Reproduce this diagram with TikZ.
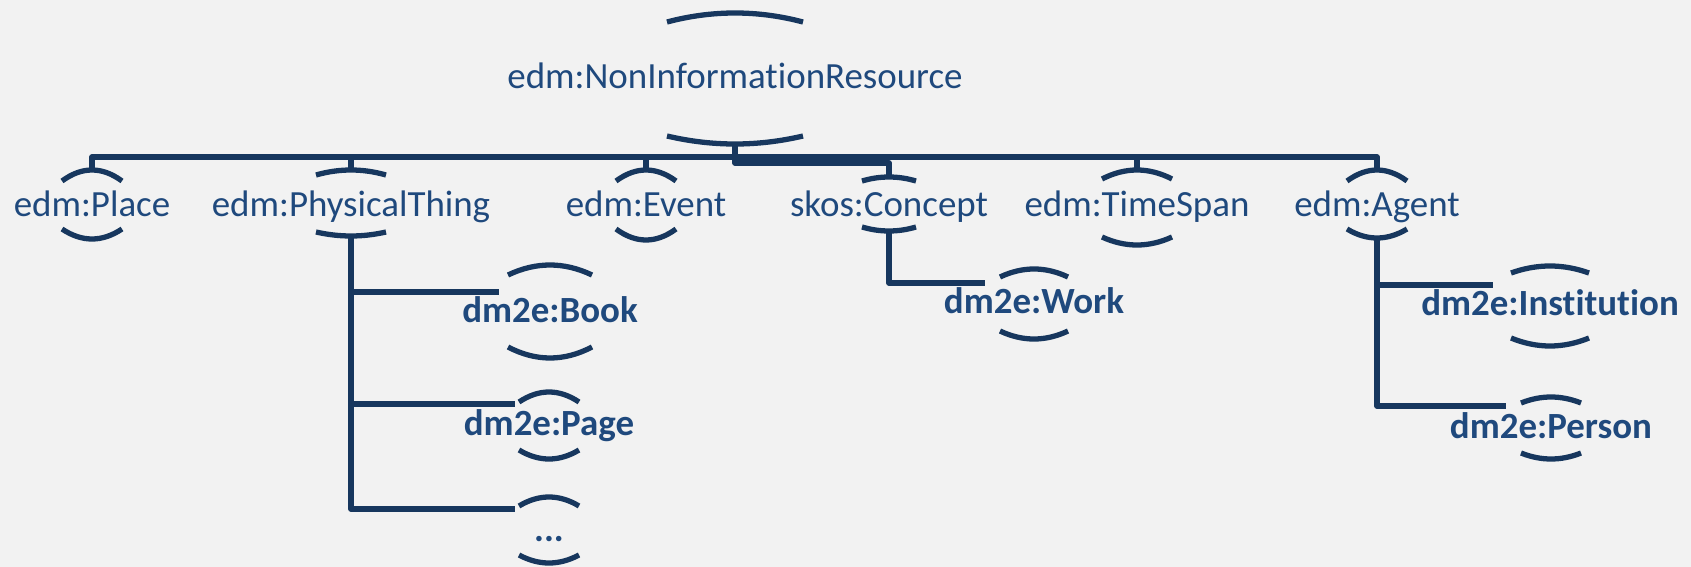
\documentclass[tikz,border=0pt]{standalone}
\usepackage{fontspec}
\setmainfont{Carlito}[Ligatures=NoCommon]
\usepackage{tikz}
\usetikzlibrary{calc}
\definecolor{bgc}{HTML}{F2F2F2}
\definecolor{txtc}{HTML}{1F497D}
\definecolor{linec}{HTML}{17375E}
\tikzset{
  cls/.style={anchor=base, inner sep=0pt, text=txtc, font=\fontsize{10.5}{12}\selectfont},
  sub/.style={cls, font=\fontsize{10.5}{12}\selectfont\bfseries},
  rim/.style={color=linec, line width=1.5pt},
  link/.style={color=linec, line width=1.5pt, line join=round}
}
\def\classnode{\node[cls]}
\def\subnode{\node[sub]}
\def\drawlink{\draw[link]}
% arcs above and below a label: name, half width, top end, top middle, bottom end, bottom middle
\newcommand\halo[6]{%
  \draw[rim] ($(#1.base)+(-#2,#3)$)
    .. controls ($(#1.base)+({-(#2)/3},{(4*(#4)-(#3))/3})$) and ($(#1.base)+({(#2)/3},{(4*(#4)-(#3))/3})$)
    .. ($(#1.base)+(#2,#3)$);
  \draw[rim] ($(#1.base)+(-#2,#5)$)
    .. controls ($(#1.base)+({-(#2)/3},{(4*(#6)-(#5))/3})$) and ($(#1.base)+({(#2)/3},{(4*(#6)-(#5))/3})$)
    .. ($(#1.base)+(#2,#5)$);
  \coordinate (#1-t) at ($(#1.base)+(0,#4)$);
  \coordinate (#1-b) at ($(#1.base)+(0,#6)$);
}

\begin{document}
\begin{tikzpicture}[x=0.01cm,y=-0.01cm]
\path[use as bounding box, fill=bgc] (0,0) rectangle (1691,567);

% top class
\classnode (root) at (735,89) {edm:NonInformationResource};
\halo{root}{68}{-67}{-76}{47}{55}

% first level (base lines at the same height)
\classnode (place) at (92,216) {edm:Place};
\classnode (physthing) at (351,216) {edm:PhysicalThing};
\classnode (event) at (646,216) {edm:Event};
\classnode (concept) at (889,216) {skos:Concept};
\classnode (timespan) at (1137,216) {edm:TimeSpan};
\classnode (agent) at (1377,216) {edm:Agent};
\halo{place}{30}{-35}{-46}{13}{23}
\halo{physthing}{35}{-41}{-46}{16}{20}
\halo{event}{30}{-35}{-46}{13}{24}
\halo{concept}{27}{-35}{-39}{11}{15}
\halo{timespan}{35}{-37}{-46}{21}{29}
\halo{agent}{30}{-35}{-46}{13}{22}

\foreach \c in {place,physthing,event,timespan,agent}
  \drawlink (root-b) -- ++(0,13) -| (\c-t);
\drawlink (root-b) -- ++(0,19) -| (concept-t);

% dm2e subclasses
\subnode (book) at (550,322) {dm2e:Book};
\subnode (page) at (549,435) {dm2e:Page};
\subnode (more) at (549,541) {...};
\subnode (work) at (1034,314) {dm2e:Work};
\subnode (institution) at (1550,315) {dm2e:Institution};
\subnode (person) at (1551,438) {dm2e:Person};
\halo{book}{42}{-47}{-57}{25}{36}
\halo{page}{30}{-33}{-43}{15}{24}
\halo{more}{30}{-35}{-44}{14}{22}
\halo{work}{34}{-37}{-45}{17}{25}
\halo{institution}{39}{-42}{-49}{23}{31}
\halo{person}{30}{-35}{-41}{15}{21}

\coordinate (book-w) at ($(book.base)+(-51,-30)$);
\coordinate (page-w) at ($(page.base)+(-34,-31)$);
\coordinate (more-w) at ($(more.base)+(-34,-32)$);
\coordinate (work-w) at ($(work.base)+(-49,-31)$);
\coordinate (institution-w) at ($(institution.base)+(-57,-30)$);
\coordinate (person-w) at ($(person.base)+(-45,-32)$);

\drawlink (physthing-b) |- (book-w);
\drawlink (physthing-b) |- (page-w);
\drawlink (physthing-b) |- (more-w);
\drawlink (concept-b) |- (work-w);
\drawlink (agent-b) |- (institution-w);
\drawlink (agent-b) |- (person-w);
\end{tikzpicture}
\end{document}
